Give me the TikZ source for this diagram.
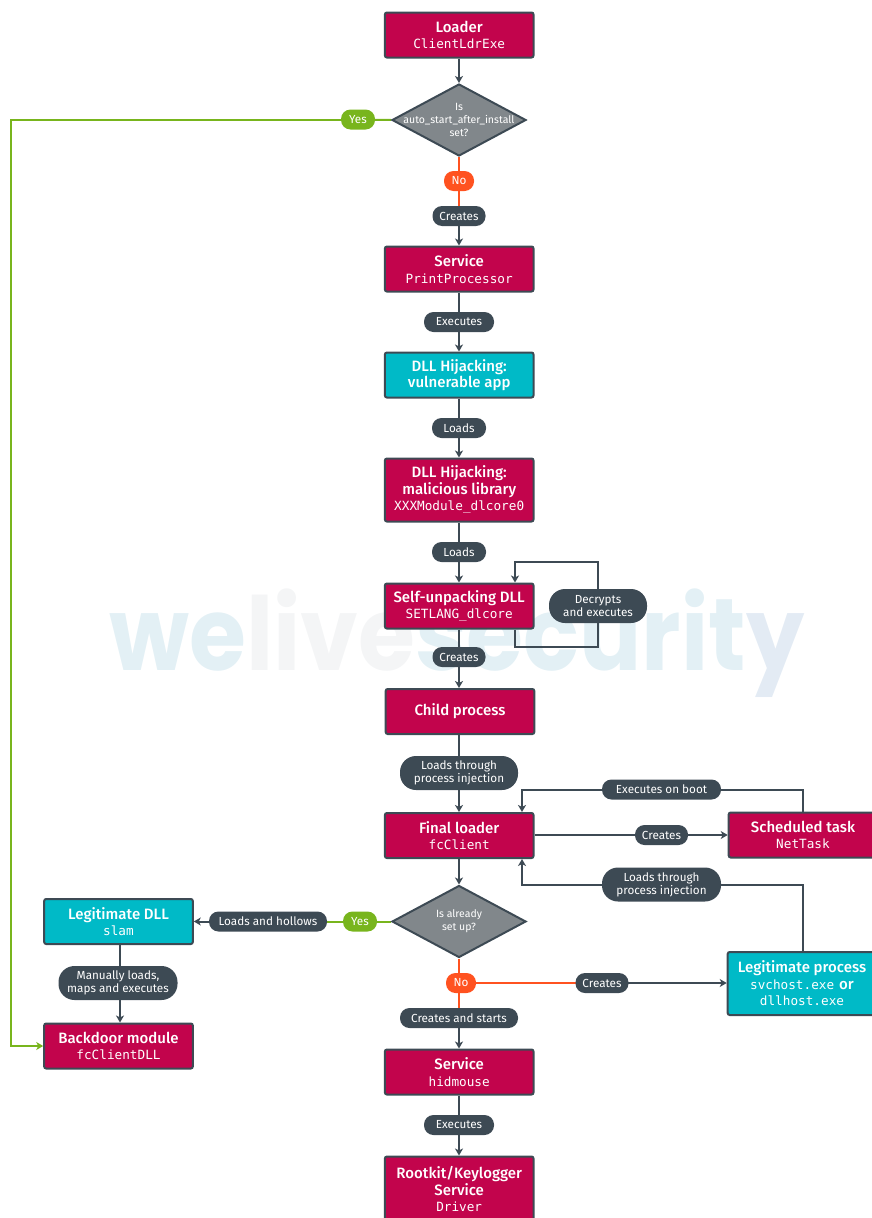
\documentclass[tikz,border=0pt]{standalone}
\usepackage{graphicx}
\usepackage{fontspec}
\setmainfont{Fira Sans}
\setmonofont{DejaVu Sans Mono}
\newfontfamily\wmfont{Poppins}
\newfontfamily\medfont{Fira Sans Medium}
\usetikzlibrary{arrows.meta,shapes.geometric,calc}
\definecolor{crim}{HTML}{C2044C}
\definecolor{teal2}{HTML}{00BAC7}
\definecolor{dgray}{HTML}{81878B}
\definecolor{slate}{HTML}{3D4A54}
\definecolor{lime}{HTML}{78B51D}
\definecolor{orng}{HTML}{FF5220}
\definecolor{wma}{HTML}{E3F0F5}
\definecolor{wmb}{HTML}{F4F5F6}
\definecolor{wmc}{HTML}{E3EBF4}
\pgfdeclarelayer{wm}
\pgfdeclarelayer{wires}
\pgfsetlayers{wm,wires,main}
\tikzset{
  base/.style={draw=slate,line width=2pt,rounded corners=2pt,minimum width=148.6pt,minimum height=45pt,inner sep=0pt,text=white,align=center,font=\fontsize{14}{16.5}\selectfont},
  redbox/.style={base,fill=crim},
  tealbox/.style={base,fill=teal2},
  pill/.style={rounded corners=9.5pt,fill=slate,text=white,align=center,font=\fontsize{11.7}{13}\selectfont,inner sep=0pt,minimum height=20pt},
  tallpill/.style={pill,minimum height=34pt,rounded corners=16pt},
  ypill/.style={pill,fill=lime,minimum width=34pt},
  npill/.style={pill,fill=orng,minimum width=30pt},
  dia/.style={diamond,draw=slate,fill=dgray,line width=2pt,inner sep=0pt,minimum width=134pt,minimum height=72pt},
  dtext/.style={text=white,align=center,font=\fontsize{10.5}{13}\selectfont,inner sep=0pt},
  wire/.style={draw=slate,line width=2pt},
  lwire/.style={wire,-{Stealth[length=7pt,width=8pt,inset=2pt]}},
  gwire/.style={draw=lime,line width=2pt},
  owire/.style={draw=orng,line width=2pt},
}
\newcommand{\ttl}[1]{{\medfont\fontsize{15}{16.5}\selectfont #1}}
\newcommand{\cod}[1]{{\ttfamily\fontsize{12.7}{16.5}\selectfont #1}}
\begin{document}
\begin{tikzpicture}[x=1pt,y=-1pt]
\useasboundingbox (0,0) rectangle (871,1218);
\begin{pgfonlayer}{wm}
\node[inner sep=0pt,anchor=base,font=\wmfont\bfseries\fontsize{102}{104}\selectfont,text=wma] (wm) at (457,670) {\scalebox{0.905}[1]{we\textcolor{wmb}{live}securit\textcolor{wmc}{y}}};
\end{pgfonlayer}
% boxes
\node[redbox] (loader) at (459.2,35) {\ttl{Loader}\\\cod{ClientLdrExe}};
\node[dia] (d1) at (459,120) {};
\node[dtext] (d1t) at (459,120) {Is\\auto\_start\_after\_install\\set?};
\node[ypill] (yes1) at (358,119.5) {Yes};
\node[npill] (no1) at (459,181) {No};
\node[pill,minimum width=53pt] (cr1) at (459,216) {Creates};
\node[redbox] (svc1) at (459.2,269) {\ttl{Service}\\\cod{PrintProcessor}};
\node[pill,minimum width=70pt] (ex1) at (459,322) {Executes};
\node[tealbox] (vuln) at (459.2,375) {\ttl{DLL Hijacking:}\\\ttl{vulnerable app}};
\node[pill,minimum width=54pt] (lo1) at (459,428) {Loads};
\node[redbox,minimum height=63pt] (mal) at (459.2,490) {\ttl{DLL Hijacking:}\\\ttl{malicious library}\\\cod{XXXModule\_dlcore0}};
\node[pill,minimum width=54pt] (lo2) at (459,552) {Loads};
\node[redbox] (self) at (459.2,606) {\ttl{Self-unpacking DLL}\\\cod{SETLANG\_dlcore}};
\node[tallpill,minimum width=98pt] (dec) at (598,606) {Decrypts\\and executes};
\node[pill,minimum width=53pt] (cr2) at (459,657) {Creates};
\node[redbox] (child) at (460,711.5) {\ttl{Child process}};
\node[tallpill,minimum width=118pt] (inj1) at (459,773) {Loads through\\process injection};
\node[redbox] (final) at (459.2,835.5) {\ttl{Final loader}\\\cod{fcClient}};
\node[pill,minimum width=119pt] (boot) at (661.5,789.5) {Executes on boot};
\node[pill,minimum width=53pt] (cr3) at (661.5,835) {Creates};
\node[redbox] (task) at (803,835) {\ttl{Scheduled task}\\\cod{NetTask}};
\node[tallpill,minimum width=119pt] (inj2) at (661.5,884.5) {Loads through\\process injection};
\node[dia] (d2) at (459,921.5) {};
\node[dtext] (d2t) at (459,921.5) {Is already\\set up?};
\node[ypill] (yes2) at (360,921.5) {Yes};
\node[pill,minimum width=118pt] (hol) at (268,921.5) {Loads and hollows};
\node[tealbox] (dll) at (118.5,921.5) {\ttl{Legitimate DLL}\\\cod{slam}};
\node[tallpill,minimum width=119pt] (man) at (118,983) {Manually loads,\\maps and executes};
\node[redbox] (back) at (118.5,1046) {\ttl{Backdoor module}\\\cod{fcClientDLL}};
\node[npill] (no2) at (461,983) {No};
\node[pill,minimum width=53pt] (cr4) at (602,983) {Creates};
\node[tealbox,minimum height=63pt] (proc) at (802,983.5) {\ttl{Legitimate process}\\\cod{svchost.exe}\hspace{5pt}{\medfont\fontsize{15}{16.5}\selectfont or}\\\cod{dllhost.exe}};
\node[pill,minimum width=118pt] (crst) at (459,1018) {Creates and starts};
\node[redbox] (svc2) at (459.2,1072) {\ttl{Service}\\\cod{hidmouse}};
\node[pill,minimum width=70pt] (ex2) at (459,1125) {Executes};
\node[redbox,minimum height=65pt] (root) at (459.2,1189) {\ttl{Rootkit/Keylogger}\\\ttl{Service}\\\cod{Driver}};
% routing helpers
\coordinate (gc) at (11,119.5);
\coordinate (la) at (515,647);
\coordinate (lb) at (515,562);
\coordinate (bc) at (522,789.5);
\coordinate (ic) at (522,884.5);
\coordinate (tw) at (803,800);
\coordinate (dw) at (120,983);
\coordinate (fw) at (459,780);
% wires
\begin{pgfonlayer}{wires}
\draw[lwire] (loader.south -| fw) -- (d1.north);
\draw[gwire] (d1.west) -- (yes1.center);
\draw[gwire,-{Stealth[length=7pt,width=8pt,inset=2pt]}] (yes1.center) -- (gc) |- (back.west);
\draw[owire] (d1.south) -- (no1.center);
\draw[owire] (no1.center) -- (cr1.center);
\draw[lwire] (cr1.center) -- (svc1.north -| fw);
\draw[lwire] (svc1.south -| fw) -- (vuln.north -| fw);
\draw[lwire] (vuln.south -| fw) -- (mal.north -| fw);
\draw[lwire] (mal.south -| fw) -- (self.north -| fw);
\draw[lwire] (self.south -| la) -- (la) -| (dec.center) |- (lb) -- (self.north -| lb);
\draw[lwire] (self.south -| fw) -- (child.north -| fw);
\draw[lwire] (child.south -| fw) -- (final.north -| fw);
\draw[lwire] (task.north -| tw) |- (bc) -- (final.north -| bc);
\draw[lwire] (final.east |- cr3) -- (task.west |- cr3);
\draw[lwire] (proc.north -| tw) |- (ic) -- (final.south -| ic);
\draw[lwire] (final.south -| fw) -- (d2.north);
\draw[gwire] (d2.west) -- (yes2.center);
\draw[gwire] (yes2.center) -- (hol.center);
\draw[lwire] (hol.center) -- (dll.east |- hol);
\draw[lwire] (dll.south -| dw) -- (back.north -| dw);
\draw[owire] (d2.south) -- (d2.south |- crst.north);
\draw[owire] (no2.center) -- (cr4.center);
\draw[lwire] (cr4.center) -- (proc.west |- cr4);
\draw[lwire] (crst.center) -- (svc2.north -| fw);
\draw[lwire] (svc2.south -| fw) -- (root.north -| fw);
\end{pgfonlayer}
\end{tikzpicture}
\end{document}
